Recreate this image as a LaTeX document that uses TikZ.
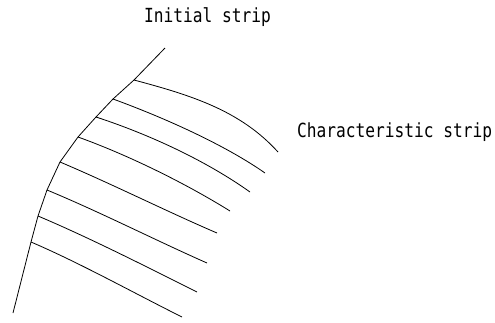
\documentclass[tikz,border=0pt]{standalone}
\usepackage{fontspec}
\setmonofont{DejaVu Sans Mono}
\usepackage{tikz}
\usetikzlibrary{positioning}

\begin{document}
\begin{tikzpicture}[
  x=1pt, y=-1pt,
  strip/.style={line width=0.8pt, black},
  lbl/.style={anchor=base west, inner sep=0pt, font=\fontsize{16.2}{18}\ttfamily},
]
\useasboundingbox (0,0) rectangle (495,322);

% Initial strip and its points
\coordinate (top) at (165,48);
\coordinate (s1) at (134,80);
\coordinate (s2) at (113,99);
\coordinate (s3) at (96,117);
\coordinate (s4) at (78,137);
\coordinate (s5) at (60,162);
\coordinate (s6) at (47,190);
\coordinate (s7) at (38,216);
\coordinate (s8) at (31,242);
\coordinate (bot) at (13,313);
\draw[strip] (top) -- (s1) -- (s2) -- (s3) -- (s4) -- (s5) -- (s6) -- (s7) -- (s8) -- (bot);

% Characteristic strips
\foreach \i/\ca/\cb/\e in {1/{190,95}/{240,110}/{278,152},
                          2/{165,118}/{225,145}/{265,173},
                          3/{148,134}/{205,160}/{250,192},
                          4/{128,155}/{185,183}/{230,211},
                          5/{112,184}/{168,212}/{217,233},
                          6/{100,212}/{155,240}/{207,263},
                          7/{90,238}/{145,266}/{197,292},
                          8/{80,263}/{132,292}/{182,317}}
  \draw[strip] (s\i) .. controls (\ca) and (\cb) .. (\e);

% Labels
\node[lbl] (init) at (144,22.7) {\scalebox{1}[1.2]{Initial strip}};
\node[lbl] (char) at (297,137.3) {\scalebox{1}[1.2]{Characteristic strip}};

\end{tikzpicture}
\end{document}
